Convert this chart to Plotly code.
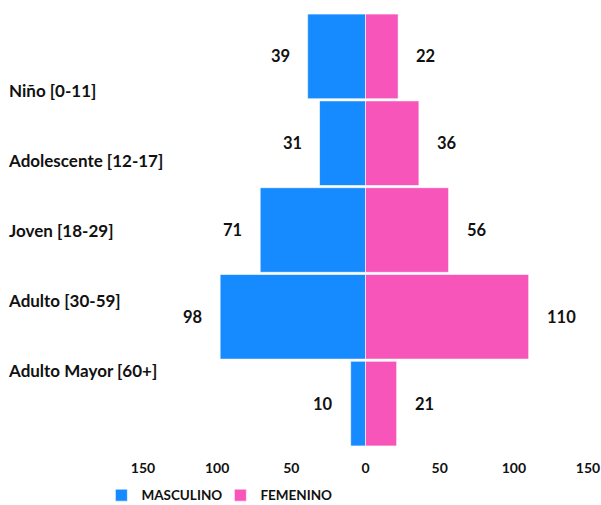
import plotly.graph_objects as go

categories = ["Niño [0-11]", "Adolescente [12-17]", "Joven [18-29]", "Adulto [30-59]", "Adulto Mayor [60+]"]
masculino = [39, 31, 71, 98, 10]
femenino = [22, 36, 56, 110, 21]
tick_vals = [-150, -100, -50, 0, 50, 100, 150]
tick_text = ["150", "100", "50", "0", "50", "100", "150"]

BLUE = "#168BFF"
PINK = "#F755BA"
FONT = "Lato"

n = len(categories)
label_pos = list(range(n - 1, -1, -1))

fig = go.Figure()
fig.add_trace(go.Bar(
    y=categories, x=[-v for v in masculino], name="MASCULINO", orientation="h",
    marker=dict(color=BLUE, line=dict(color="rgba(255,255,255,0.6)", width=1)),
    hoverinfo="skip",
))
fig.add_trace(go.Bar(
    y=categories, x=femenino, name="FEMENINO", orientation="h",
    marker=dict(color=PINK, line=dict(color="rgba(255,255,255,0.6)", width=1)),
    hoverinfo="skip",
))
# invisible helper trace so the category-label axis is drawn
fig.add_trace(go.Scatter(
    x=[0] * n, y=label_pos, yaxis="y2", mode="markers",
    marker=dict(opacity=0), showlegend=False, hoverinfo="skip",
))

annotations = []
for c, m, f in zip(categories, masculino, femenino):
    annotations.append(dict(x=-m, y=c, xref="x", yref="y", text=f"<b>{m}</b>", showarrow=False,
                            xanchor="right", xshift=-16, font=dict(family=FONT, size=16.5, color="#111")))
    annotations.append(dict(x=f, y=c, xref="x", yref="y", text=f"<b>{f}</b>", showarrow=False,
                            xanchor="left", xshift=16, font=dict(family=FONT, size=16.5, color="#111")))

fig.update_layout(
    width=601, height=505,
    margin=dict(l=8, r=13, t=12.5, b=57.5, autoexpand=False),
    paper_bgcolor="white", plot_bgcolor="white",
    barmode="relative", bargap=0.025,
    font=dict(family=FONT, size=15, color="#111"),
    xaxis=dict(domain=[0.2328, 1], range=[-150, 150], tickvals=tick_vals, ticktext=tick_text,
               showgrid=False, zeroline=False, showline=False, ticklabelstandoff=11, automargin=False,
               tickfont=dict(family=FONT, size=14, weight="bold")),
    yaxis=dict(categoryorder="array", categoryarray=categories, autorange="reversed",
               showticklabels=False, showgrid=False, zeroline=False, showline=False, automargin=False),
    yaxis2=dict(overlaying="y", anchor="free", position=0, side="right",
                range=[-1.093, 5.121],
                tickvals=label_pos, ticktext=categories, automargin=False,
                showgrid=False, zeroline=False, showline=False, ticks="",
                tickfont=dict(family=FONT, size=17, weight="bold")),
    legend=dict(orientation="h", x=0.161, xanchor="left", y=-0.1115, yanchor="middle",
                entrywidth=74, entrywidthmode="pixels",
                font=dict(family=FONT, size=13.5, weight="bold"), traceorder="normal"),
    annotations=annotations,
)

fig.write_html("out.html", config={"displayModeBar": False},
               post_script="document.body.style.margin='0px';")
